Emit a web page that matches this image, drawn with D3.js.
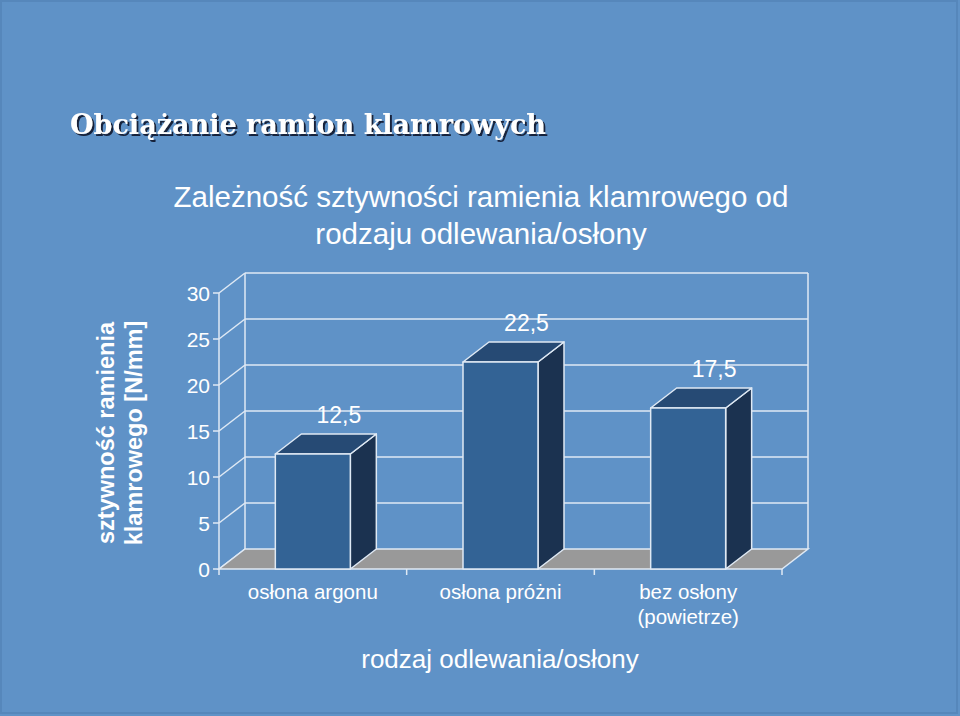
<!DOCTYPE html>
<html>
<head>
<meta charset="utf-8">
<script src="https://cdn.jsdelivr.net/npm/d3@7"></script>
<style>
  body { margin: 0; background: #5f92c7; }
  svg { display: block; }
  text { font-family: "Liberation Sans", Arial, sans-serif; fill: #ffffff; }
</style>
</head>
<body>
<div id="chart"></div>
<script>
var width = 960, height = 716;

// chart data
var categories = ["osłona argonu", "osłona próżni", "bez osłony\n(powietrze)"];
var values = [12.5, 22.5, 17.5];
var valueLabels = ["12,5", "22,5", "17,5"];
var yTicks = [0, 5, 10, 15, 20, 25, 30];

var titleText = "Obciążanie ramion klamrowych";
var subtitleLines = ["Zależność sztywności ramienia klamrowego od", "rodzaju odlewania/osłony"];
var yTitleLines = ["sztywność ramienia", "klamrowego [N/mm]"];
var xTitleText = "rodzaj odlewania/osłony";

var gridColor = "#dfe9f4";
var depth = {dx: 26, dy: -20};

var svg = d3.select("#chart").append("svg")
    .attr("width", width)
    .attr("height", height);

var defs = svg.append("defs");
defs.append("filter").attr("id", "shadow")
    .attr("x", "-5%").attr("y", "-20%").attr("width", "110%").attr("height", "140%")
    .append("feDropShadow")
    .attr("dx", 2).attr("dy", 2).attr("stdDeviation", 0.4)
    .attr("flood-color", "#15243a").attr("flood-opacity", 1);

// background + thin frame
svg.append("rect").attr("x", 0).attr("y", 0).attr("width", width).attr("height", height)
    .attr("fill", "#5f92c7");
svg.append("rect").attr("x", 1).attr("y", 1).attr("width", width - 4).attr("height", height - 4)
    .attr("fill", "none").attr("stroke", "#5687bb").attr("stroke-width", 2);

var x = d3.scaleBand()
    .domain(categories)
    .range([219, 782]);

var y = d3.scaleLinear()
    .domain([0, 30])
    .range([569, 293]);

var barWidth = 75;

// title with shadow
svg.append("text")
    .attr("x", 70).attr("y", 134)
    .attr("textLength", 476).attr("lengthAdjust", "spacingAndGlyphs")
    .attr("filter", "url(#shadow)")
    .style("font-family", "'DejaVu Serif', 'Liberation Serif', serif")
    .style("font-weight", "bold").style("font-size", "27px")
    .text(titleText);

// subtitle
svg.selectAll(".subtitle")
    .data(subtitleLines)
    .enter().append("text")
    .attr("class", "subtitle")
    .attr("x", 481)
    .attr("y", function(d, i) { return 207 + i * 37; })
    .attr("text-anchor", "middle")
    .style("font-size", "29.5px")
    .text(function(d) { return d; });

// back wall: gridlines and side diagonals
var x0 = x.range()[0], x1 = x.range()[1];
var grid = svg.append("g").attr("stroke", gridColor).attr("stroke-width", 1.5).attr("fill", "none");

grid.selectAll(".hgrid")
    .data(yTicks.slice(1))
    .enter().append("line")
    .attr("x1", x0 + depth.dx).attr("x2", x1 + depth.dx)
    .attr("y1", function(d) { return y(d) + depth.dy; })
    .attr("y2", function(d) { return y(d) + depth.dy; });

grid.selectAll(".diag")
    .data(yTicks)
    .enter().append("line")
    .attr("x1", x0).attr("x2", x0 + depth.dx)
    .attr("y1", function(d) { return y(d); })
    .attr("y2", function(d) { return y(d) + depth.dy; });

grid.append("line")
    .attr("x1", x0 + depth.dx).attr("x2", x0 + depth.dx)
    .attr("y1", y(0) + depth.dy).attr("y2", y(30) + depth.dy);
grid.append("line")
    .attr("x1", x1 + depth.dx).attr("x2", x1 + depth.dx)
    .attr("y1", y(0) + depth.dy).attr("y2", y(30) + depth.dy);

// floor
svg.append("path")
    .attr("d", "M" + x0 + "," + y(0) + "L" + x1 + "," + y(0) +
        "L" + (x1 + depth.dx) + "," + (y(0) + depth.dy) +
        "L" + (x0 + depth.dx) + "," + (y(0) + depth.dy) + "Z")
    .attr("fill", "#999999")
    .attr("stroke", gridColor).attr("stroke-width", 1.5);

// y axis (front)
var yAxis = svg.append("g");
yAxis.append("line")
    .attr("x1", x0).attr("x2", x0)
    .attr("y1", y(0)).attr("y2", y(30))
    .attr("stroke", gridColor).attr("stroke-width", 1.5);
yAxis.selectAll(".tick")
    .data(yTicks)
    .enter().append("line")
    .attr("x1", x0 - 6).attr("x2", x0)
    .attr("y1", function(d) { return y(d); })
    .attr("y2", function(d) { return y(d); })
    .attr("stroke", gridColor).attr("stroke-width", 1.5);
yAxis.selectAll(".ticklabel")
    .data(yTicks)
    .enter().append("text")
    .attr("x", x0 - 9)
    .attr("y", function(d) { return y(d); })
    .attr("dy", "0.36em")
    .attr("text-anchor", "end")
    .style("font-size", "21px")
    .text(function(d) { return d; });

// bars
var bars = svg.selectAll(".bar")
    .data(values)
    .enter().append("g")
    .attr("class", "bar")
    .attr("stroke", gridColor).attr("stroke-width", 1.5).attr("stroke-linejoin", "round");

function barLeft(i) { return x(categories[i]) + x.bandwidth() / 2 - barWidth / 2; }

// side face
bars.append("path")
    .attr("fill", "#1b3250")
    .attr("d", function(d, i) {
        var l = barLeft(i) + barWidth, t = y(d), b = y(0);
        return "M" + l + "," + b + "L" + l + "," + t +
            "L" + (l + depth.dx) + "," + (t + depth.dy) +
            "L" + (l + depth.dx) + "," + (b + depth.dy) + "Z";
    });
// top face
bars.append("path")
    .attr("fill", "#264a74")
    .attr("d", function(d, i) {
        var l = barLeft(i), t = y(d);
        return "M" + l + "," + t + "L" + (l + barWidth) + "," + t +
            "L" + (l + barWidth + depth.dx) + "," + (t + depth.dy) +
            "L" + (l + depth.dx) + "," + (t + depth.dy) + "Z";
    });
// front face
bars.append("rect")
    .attr("fill", "#336395")
    .attr("x", function(d, i) { return barLeft(i); })
    .attr("y", function(d) { return y(d); })
    .attr("width", barWidth)
    .attr("height", function(d) { return y(0) - y(d); });

// value labels
svg.selectAll(".vlabel")
    .data(values)
    .enter().append("text")
    .attr("class", "vlabel")
    .attr("x", function(d, i) { return x(categories[i]) + x.bandwidth() / 2 + depth.dx; })
    .attr("y", function(d) { return y(d) + depth.dy - 11; })
    .attr("text-anchor", "middle")
    .style("font-size", "23px")
    .text(function(d, i) { return valueLabels[i]; });

// x axis ticks + labels
var xTickPos = categories.map(function(c) { return x(c); }).concat([x1]);
svg.selectAll(".xtick")
    .data(xTickPos)
    .enter().append("line")
    .attr("x1", function(d) { return d; }).attr("x2", function(d) { return d; })
    .attr("y1", y(0)).attr("y2", y(0) + 6)
    .attr("stroke", gridColor).attr("stroke-width", 1.5);

svg.selectAll(".xlabel")
    .data(categories)
    .enter().append("text")
    .attr("class", "xlabel")
    .attr("text-anchor", "middle")
    .style("font-size", "20.5px")
    .each(function(d) {
        var t = d3.select(this);
        d.split("\n").forEach(function(line, k) {
            t.append("tspan")
                .attr("x", x(d) + x.bandwidth() / 2)
                .attr("y", 599 + k * 25)
                .text(line);
        });
    });

// axis titles
svg.append("text")
    .attr("x", 500).attr("y", 668)
    .attr("text-anchor", "middle")
    .style("font-size", "26px")
    .text(xTitleText);

svg.selectAll(".ytitle")
    .data(yTitleLines)
    .enter().append("text")
    .attr("class", "ytitle")
    .attr("transform", function(d, i) { return "translate(" + (114 + i * 28) + ",433) rotate(-90)"; })
    .attr("text-anchor", "middle")
    .style("font-size", "23.5px").style("font-weight", "bold")
    .text(function(d) { return d; });
</script>
</body>
</html>
